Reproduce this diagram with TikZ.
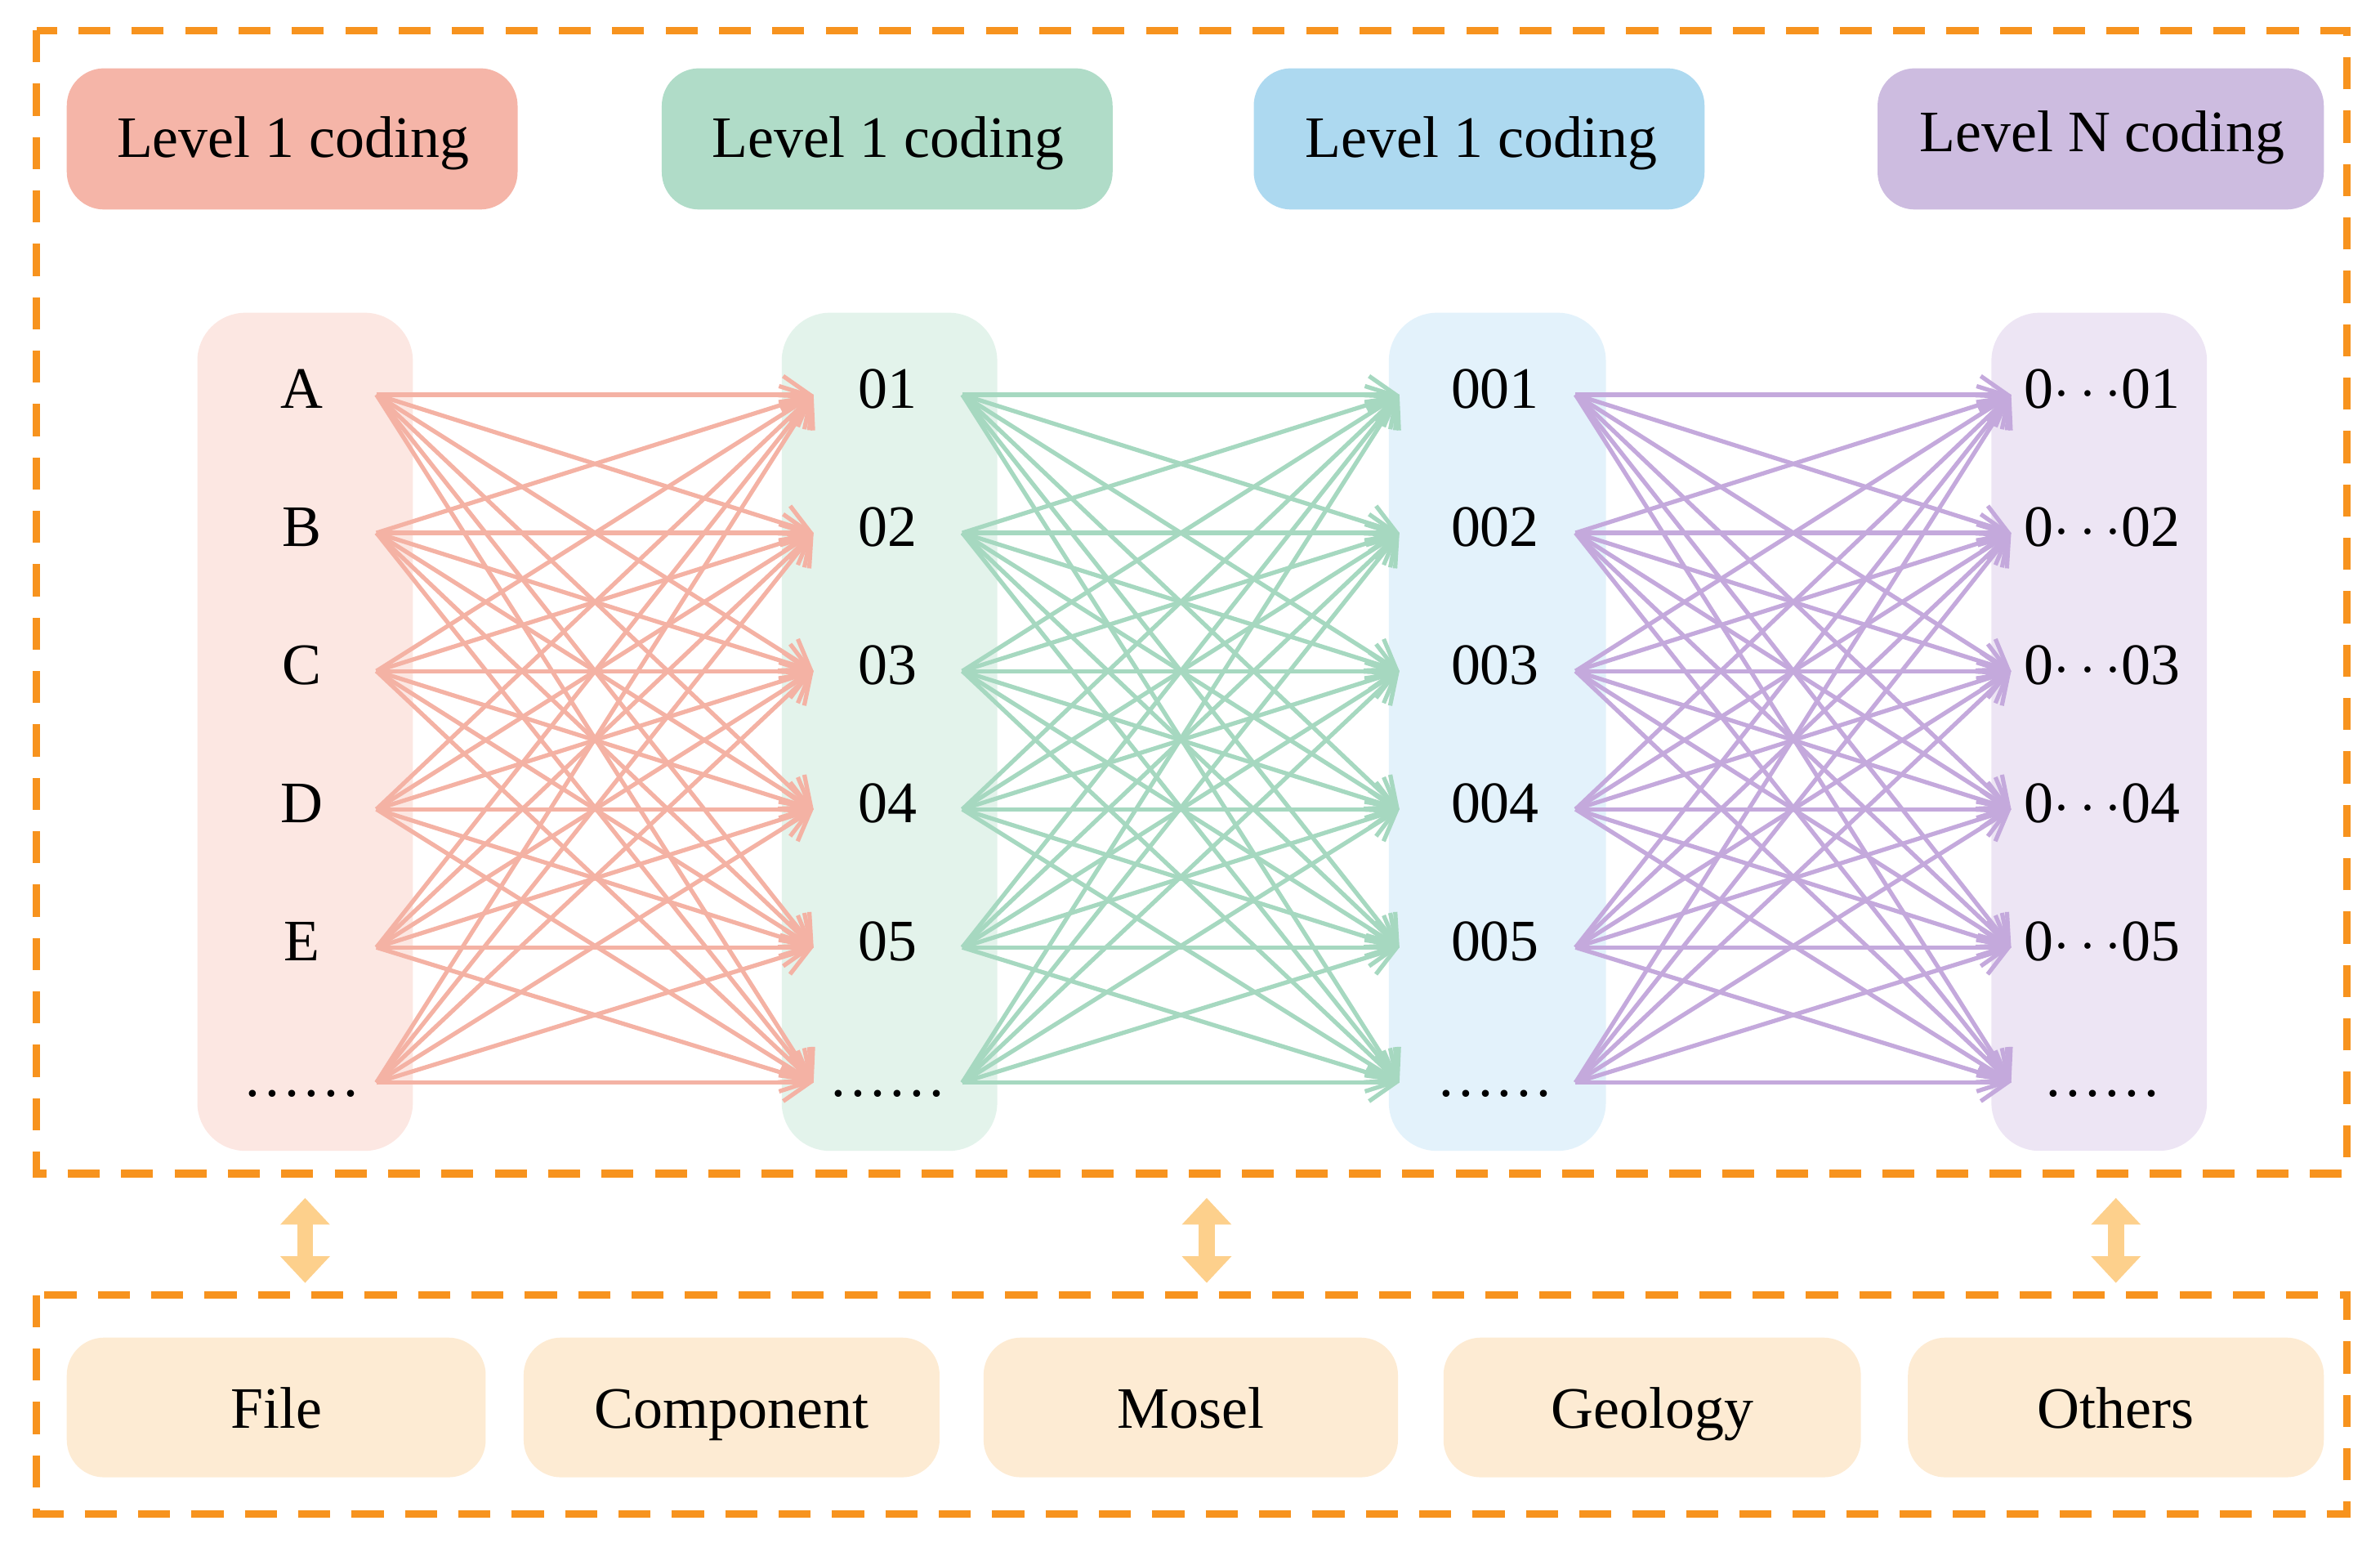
\documentclass[tikz,border=0pt]{standalone}
\usepackage{fontspec}
\setmainfont{Liberation Serif}
\usetikzlibrary{arrows.meta}
\definecolor{pk}{HTML}{F5B5A8}\definecolor{gn}{HTML}{B0DCC8}\definecolor{bl}{HTML}{ADD9F0}\definecolor{pu}{HTML}{CDBCE0}
\definecolor{pkl}{HTML}{FCE7E2}\definecolor{gnl}{HTML}{E3F3EB}\definecolor{bll}{HTML}{E3F2FB}\definecolor{pul}{HTML}{EDE5F4}
\definecolor{apk}{HTML}{F4B2A4}\definecolor{agn}{HTML}{A6D8C0}\definecolor{apu}{HTML}{C4A9DC}
\definecolor{org}{HTML}{F7931E}\definecolor{bot}{HTML}{FDEBD3}\definecolor{dbl}{HTML}{FDD08C}
\begin{document}
\begin{tikzpicture}[x=0.01cm,y=-0.01cm,
  col/.style={rounded corners=9pt},
  lab/.style={font=\fontsize{11}{13}\selectfont,text height=1.55ex,text depth=0.45ex,inner sep=0pt},
  frame/.style={draw=org,line width=1.4pt,dash pattern=on 6pt off 4pt},
  ed/.style={line width=0.8pt,-{Straight Barb[length=5pt,width=7pt,line width=0.8pt]}},
  dbla/.style={draw=dbl,line width=3pt,{Triangle[length=5pt,width=9pt]}-{Triangle[length=5pt,width=9pt]}}]
\useasboundingbox (0,0) rectangle (1568,1022);
\draw[frame] (24,20) rectangle (1546,773);
\draw[frame] (24,853) rectangle (1546,997);
\coordinate (topA) at (201,789);\coordinate (botA) at (201,845);
\coordinate (topB) at (795,789);\coordinate (botB) at (795,845);
\coordinate (topC) at (1394,789);\coordinate (botC) at (1394,845);
\draw[dbla] (topA)--(botA);\draw[dbla] (topB)--(botB);\draw[dbla] (topC)--(botC);
% headers
\fill[pk,rounded corners=7pt] (44,45) rectangle (341,138);
\fill[gn,rounded corners=7pt] (436,45) rectangle (733,138);
\fill[bl,rounded corners=7pt] (826,45) rectangle (1123,138);
\fill[pu,rounded corners=7pt] (1237,45) rectangle (1531,138);
\node[lab] (h1) at (193,95) {Level 1 coding};
\node[lab] (h2) at (585,95) {Level 1 coding};
\node[lab] (h3) at (976,95) {Level 1 coding};
\node[lab] (h4) at (1385,91) {Level N coding};
% columns
\fill[pkl,col] (130,206) rectangle (272,758);
\fill[gnl,col] (515,206) rectangle (657,758);
\fill[bll,col] (915,206) rectangle (1058,758);
\fill[pul,col] (1312,206) rectangle (1454,758);
\foreach \t [count=\i] in {A,B,C,D,E,\ldots\ldots}{\pgfmathsetmacro\y{{260,351,442,533,624,713}[\i-1]}\node[lab] (a\i) at (199,\y) {\t};
  \coordinate (as\i) at (248,\y);}
\foreach \t [count=\i] in {01,02,03,04,05,\ldots\ldots}{\pgfmathsetmacro\y{{260,351,442,533,624,713}[\i-1]}\node[lab] (b\i) at (585,\y) {\t};
  \coordinate (be\i) at (536,\y);\coordinate (bs\i) at (634,\y);}
\foreach \t [count=\i] in {001,002,003,004,005,\ldots\ldots}{\pgfmathsetmacro\y{{260,351,442,533,624,713}[\i-1]}\node[lab] (c\i) at (985,\y) {\t};
  \coordinate (ce\i) at (922,\y);\coordinate (cs\i) at (1038,\y);}
\foreach \t [count=\i] in {0$\cdots$01,0$\cdots$02,0$\cdots$03,0$\cdots$04,0$\cdots$05,\ldots\ldots}{\pgfmathsetmacro\y{{260,351,442,533,624,713}[\i-1]}\node[lab] (d\i) at (1385,\y) {\t};
  \coordinate (de\i) at (1325,\y);}
\foreach \i in {1,...,6}{\foreach \j in {1,...,6}{
  \draw[ed,apk] (as\i)--(be\j);
  \draw[ed,agn] (bs\i)--(ce\j);
  \draw[ed,apu] (cs\i)--(de\j);}}
% bottom
\foreach \t/\a/\b [count=\k] in {File/44/320,Component/345/619,Mosel/648/921,Geology/951/1226,Others/1257/1531}{
  \fill[bot,rounded corners=7pt] (\a,881) rectangle (\b,973);
  \node[lab] (m\k) at ({(\a+\b)/2},932) {\t};}
\end{tikzpicture}
\end{document}
